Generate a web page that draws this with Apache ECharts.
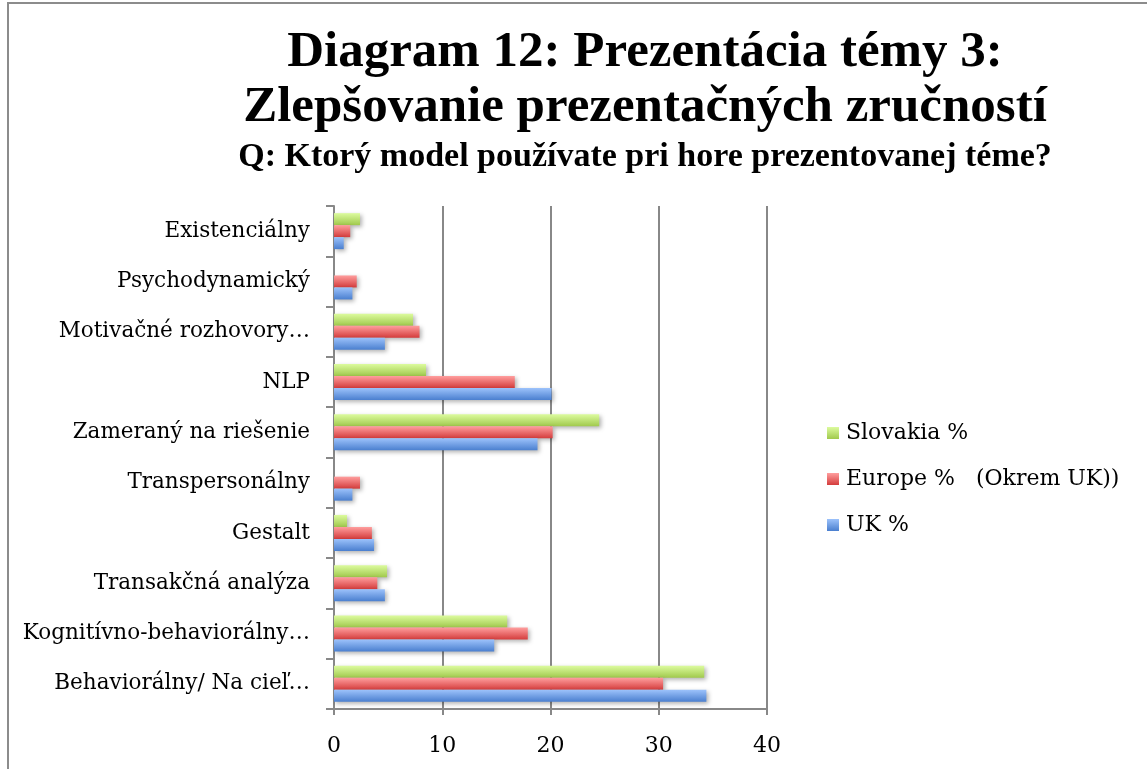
<!DOCTYPE html>
<html>
<head>
<meta charset="utf-8">
<title>Diagram 12</title>
<script src="https://cdn.jsdelivr.net/npm/echarts@6/dist/echarts.min.js"></script>
<style>
  html, body { margin: 0; padding: 0; background: #fff; }
  #main { width: 1147px; height: 769px; }
</style>
</head>
<body>
<div id="main"></div>
<script>
// bottom to top, as the category axis draws them
var categories = ['Behaviorálny/ Na cieľ…', 'Kognitívno-behaviorálny…', 'Transakčná analýza', 'Gestalt',
    'Transpersonálny', 'Zameraný na riešenie', 'NLP', 'Motivačné rozhovory…', 'Psychodynamický', 'Existenciálny'];
var slovakia = [34.2, 16.0, 4.9, 1.2, 0, 24.5, 8.5, 7.3, 0, 2.4];
var europe = [30.4, 17.9, 4.0, 3.5, 2.4, 20.2, 16.7, 7.9, 2.1, 1.5];
var uk = [34.4, 14.8, 4.7, 3.7, 1.7, 18.8, 20.1, 4.7, 1.7, 0.9];
var seriesNames = ['Slovakia %', 'Europe %   (Okrem UK))', 'UK %'];
var valueTicks = [0, 10, 20, 30, 40];

window.onload = function () {
    var myChart = echarts.init(document.getElementById('main'));
    var serif = '"Liberation Serif", "DejaVu Serif", serif';
    var wideSerif = '"DejaVu Serif", "Liberation Serif", serif';

    function grad(top, bottom) {
        return new echarts.graphic.LinearGradient(0, 0, 0, 1, [
            { offset: 0, color: top },
            { offset: 1, color: bottom }
        ]);
    }
    var fills = [grad('#dcfb9e', '#a0c94c'), grad('#ff9e9e', '#d43c3c'), grad('#9cc2fb', '#4a7fcf')];
    var icons = ['#b9e070', '#e86a6a', '#6f9fe6'];
    var values = [slovakia, europe, uk];

    var series = seriesNames.map(function (name, i) {
        return {
            name: name,
            type: 'bar',
            data: values[i],
            barWidth: 12,
            barGap: '0%',
            color: icons[i],
            itemStyle: {
                color: fills[i],
                shadowColor: 'rgba(0,0,0,0.3)',
                shadowBlur: 4,
                shadowOffsetX: 2,
                shadowOffsetY: 2
            }
        };
    });

    var option = {
        backgroundColor: '#fff',
        animation: false,
        graphic: [{
            type: 'rect',
            shape: { x: 8, y: 3, width: 1150, height: 800 },
            style: { fill: 'none', stroke: '#8c8c8c', lineWidth: 2 },
            silent: true
        }],
        title: [{
            text: 'Diagram 12: Prezentácia témy 3:\nZlepšovanie prezentačných zručností',
            left: 640, top: 20, textAlign: 'center',
            textStyle: { fontFamily: serif, fontWeight: 'bold', fontSize: 51, lineHeight: 55, color: '#000' }
        }, {
            text: 'Q: Ktorý model používate pri hore prezentovanej téme?',
            left: 640, top: 135, textAlign: 'center',
            textStyle: { fontFamily: serif, fontWeight: 'bold', fontSize: 34, color: '#000' }
        }],
        legend: {
            orient: 'vertical',
            left: 822, top: 417,
            itemWidth: 12, itemHeight: 12,
            itemGap: 24,
            icon: 'rect',
            textStyle: { fontFamily: wideSerif, fontSize: 22, color: '#000', padding: [0, 0, 0, 2] },
            data: seriesNames
        },
        grid: { left: 334, right: 380, top: 206, bottom: 60, containLabel: false },
        xAxis: {
            type: 'value',
            min: 0, max: 40, interval: 10,
            axisLine: { show: true, lineStyle: { color: '#888', width: 2 } },
            axisTick: { show: true, length: 6, lineStyle: { color: '#888', width: 2 } },
            splitLine: { show: true, lineStyle: { color: '#888', width: 2 } },
            axisLabel: {
                fontFamily: wideSerif, fontSize: 22, color: '#000', margin: 26,
                formatter: function (v) { return valueTicks.indexOf(v) >= 0 ? String(v) : ''; }
            }
        },
        yAxis: {
            type: 'category',
            data: categories,
            axisLine: { show: true, lineStyle: { color: '#888', width: 2 } },
            axisTick: { show: true, length: 8, lineStyle: { color: '#888', width: 2 } },
            axisLabel: { fontFamily: wideSerif, fontSize: 21.5, color: '#000', margin: 24 }
        },
        series: series
    };
    myChart.setOption(option);
    window.addEventListener('resize', function () {
        myChart.resize();
    });
};
</script>
</body>
</html>
